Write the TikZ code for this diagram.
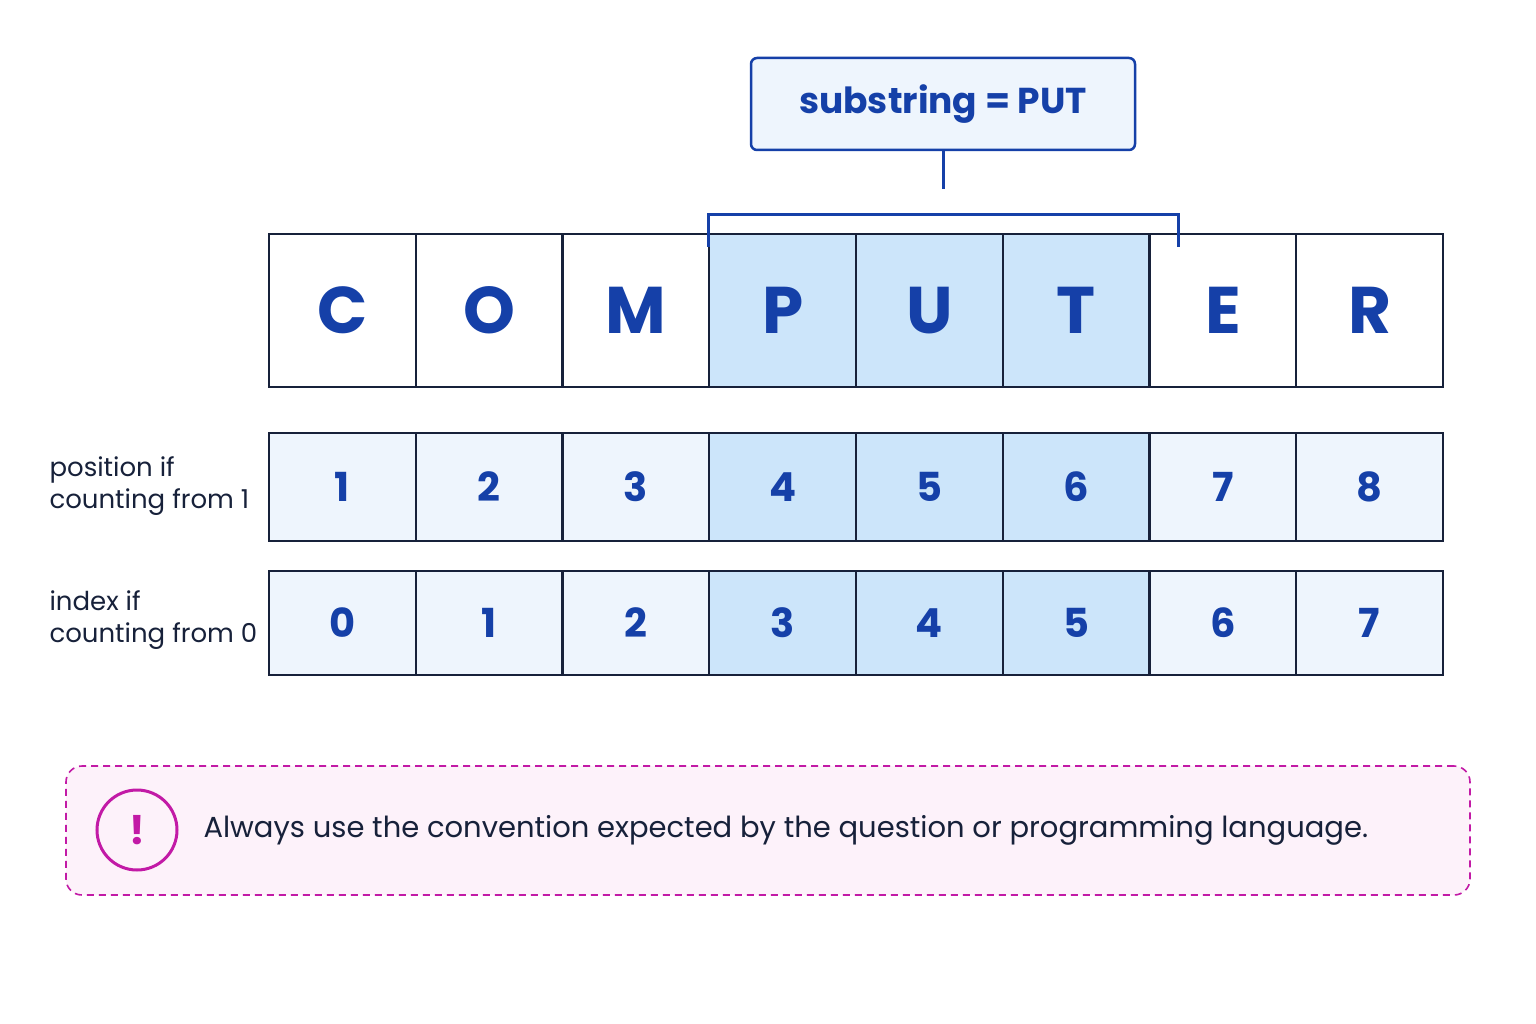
\documentclass[tikz,border=0pt]{standalone}
\usepackage{fontspec}
\setmainfont{Poppins}
\usetikzlibrary{positioning}
\definecolor{navy}{HTML}{17213A}
\definecolor{ink}{HTML}{1540A8}
\definecolor{hilite}{HTML}{CCE5FA}
\definecolor{pale}{HTML}{EEF5FD}
\definecolor{magen}{HTML}{C21AA6}
\definecolor{pinkbg}{HTML}{FDF2FA}
\tikzset{
  cell/.style={draw=navy, line width=2.2pt, minimum width=146.75pt, inner sep=0pt, text=ink},
  letter/.style={cell, minimum height=153pt, font=\fontsize{66}{66}\selectfont\bfseries},
  num/.style={cell, font=\fontsize{40}{40}\selectfont\bfseries},
  side/.style={anchor=west, align=left, text=navy, font=\fontsize{26}{32}\selectfont},
}
\begin{document}
\begin{tikzpicture}[x=1pt,y=-1pt]
        \useasboundingbox[fill=white] (0,0) rectangle (1536,1024);
        \foreach \c [count=\i] in {C,O,M,P,U,T,E,R} {
            \ifnum\i>3 \ifnum\i<7 \def\fc{hilite}\else\def\fc{white}\fi\else\def\fc{white}\fi
            \node [letter, fill=\fc] (l\i) at (269+146.75*\i-73.375,310.5) {\c};
        }
        \foreach \n [count=\i] in {1,...,8} {
            \ifnum\i>3 \ifnum\i<7 \def\fc{hilite}\else\def\fc{pale}\fi\else\def\fc{pale}\fi
            \node [num, fill=\fc, minimum height=108pt] (p\i) at (269+146.75*\i-73.375,487) {\n};
        }
        \foreach \n [count=\i] in {0,...,7} {
            \ifnum\i>3 \ifnum\i<7 \def\fc{hilite}\else\def\fc{pale}\fi\else\def\fc{pale}\fi
            \node [num, fill=\fc, minimum height=104pt] (x\i) at (269+146.75*\i-73.375,623) {\n};
        }

        \node [side] (pos) at (46,486) {position if\\counting from 1};
        \node [side] (idx) at (46,620) {index if\\counting from 0};

        \node [draw=ink, line width=2.5pt, rounded corners=6pt, fill=pale, text=ink,
               minimum width=384pt, minimum height=92pt,
               font=\fontsize{36}{36}\selectfont\bfseries] (sub) at (943,104) {substring = PUT};
        \coordinate (bl) at ([yshift=-14pt]l4.north west);
        \coordinate (br) at ([xshift=28pt,yshift=-14pt]l6.north east);
        \draw [ink, line width=3pt] (bl) -- ++(0,-32) -| (br);
        \draw [ink, line width=3pt] (sub.south) -- ++(0,38);

        \node [draw=magen, dashed, dash pattern=on 7pt off 5pt, line width=1.6pt, rounded corners=16pt,
               fill=pinkbg, minimum width=1404pt, minimum height=129pt] (note) at (768,830.5) {};
        \node [circle, draw=magen, line width=3pt, minimum size=80pt, text=magen,
               font=\fontsize{40}{40}\selectfont\bfseries] (warn) at (137,830) {!};
        \node [anchor=west, text=navy, font=\fontsize{29}{29}\selectfont]
              (msg) at (200,830) {Always use the convention expected by the question or programming language.};
\end{tikzpicture}
\end{document}
